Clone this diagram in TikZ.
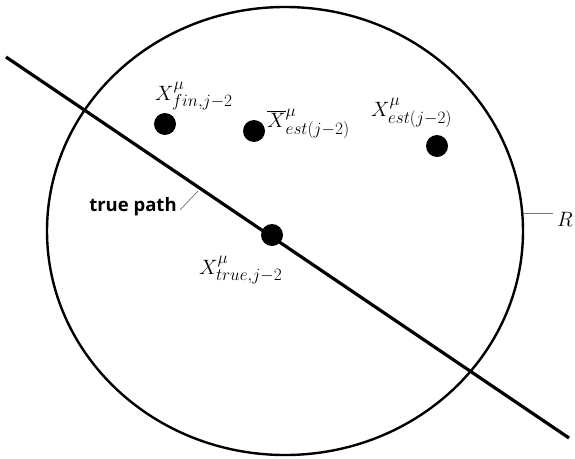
\documentclass[tikz,border=0pt]{standalone}
\usepackage{fontspec}
\usetikzlibrary{shapes.geometric}
\newfontfamily\labelfont{Open Sans}
\DeclareMathSizes{22}{22}{18}{14}
\begin{document}
\begin{tikzpicture}[x=1pt,y=-1pt,
  dot/.style={circle,fill=black,inner sep=0pt,minimum size=22pt},
  lbl/.style={inner sep=0pt,anchor=west,font=\fontsize{22}{26}\selectfont},
  leader/.style={line width=0.7pt,black!55}]
\useasboundingbox (0,0) rectangle (575,458);
\node[draw,ellipse,line width=2.4pt,minimum width=476pt,minimum height=448pt,inner sep=0pt] (R) at (285,231) {};
\coordinate (ls) at (6,57);
\coordinate (le) at (569,438);
\draw[line width=3.2pt] (ls) -- (le);
\node[dot] (fin) at (165,124) {};
\node[dot] (bar) at (254,131) {};
\node[dot] (est) at (437,146) {};
\node[dot] (tru) at (272,235) {};
\node[lbl] (lfin) at (155,96) {$X^{\mu}_{fin,j-2}$};
\node[lbl] (lbar) at (267,124) {$\overline{X}^{\mu}_{est(j-2)}$};
\node[lbl] (lest) at (371,113) {$X^{\mu}_{est(j-2)}$};
\node[lbl] (ltru) at (199,270) {$X^{\mu}_{true,j-2}$};
\node[inner sep=0pt,font=\labelfont\bfseries\fontsize{18.5}{21}\selectfont] (tp) at (133,207) {true path};
\coordinate (tpa) at (198,191);
\coordinate (tpb) at (180,210);
\draw[leader] (tpb) -- (tpa);
\node[inner sep=0pt,font=\fontsize{22}{26}\selectfont] (rl) at (565,219) {$R$};
\coordinate (ra) at (523,213);
\coordinate (rb) at (553,213);
\draw[leader] (ra) -- (rb);
\end{tikzpicture}
\end{document}
